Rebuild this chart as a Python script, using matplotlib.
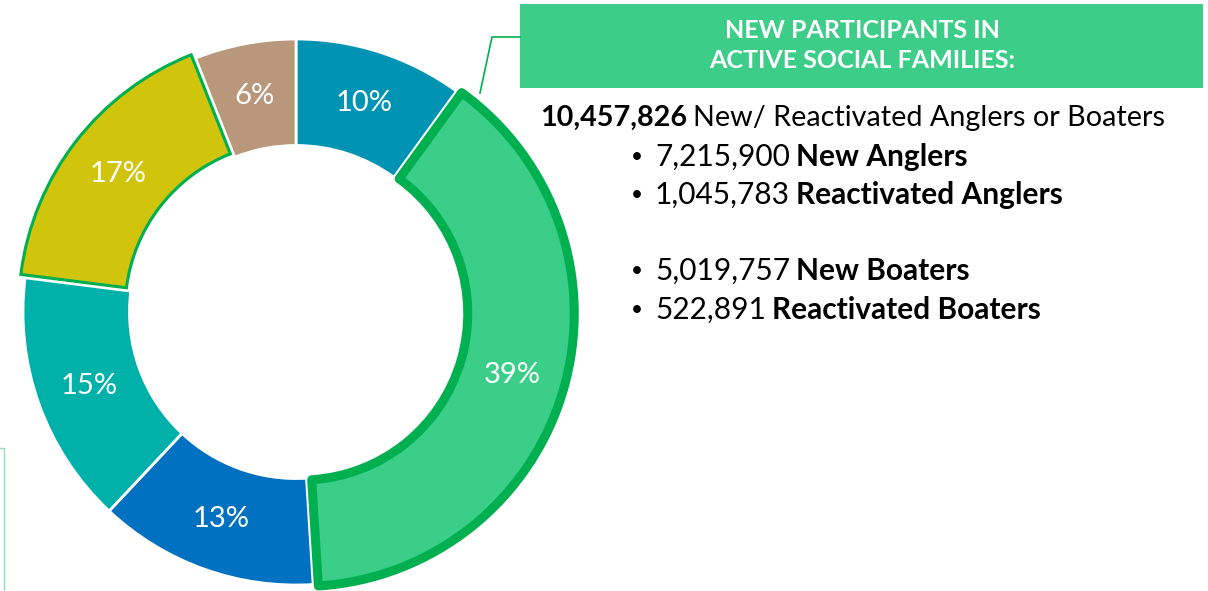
import matplotlib
matplotlib.use("Agg")
import matplotlib.pyplot as plt
from matplotlib.patches import Rectangle
from matplotlib.lines import Line2D

plt.rcParams['font.family'] = ['Lato', 'DejaVu Sans']

# donut slices, clockwise from 12 o'clock
slice_values = [10, 39, 13, 15, 17, 6]
slice_colors = ['#0093B3', '#3ACE88', '#0070C0', '#00B1A9', '#D1C40C', '#B8977B']

header_lines = ['NEW PARTICIPANTS IN', 'ACTIVE SOCIAL FAMILIES:']
total_value = '10,457,826'
total_text = 'New/ Reactivated Anglers or Boaters'
bullet_values = ['7,215,900', '1,045,783', '5,019,757', '522,891']
bullet_names = ['New Anglers', 'Reactivated Anglers', 'New Boaters', 'Reactivated Boaters']

W, H = 1208, 591
GREEN = '#00B050'
fig = plt.figure(figsize=(W / 100, H / 100), dpi=100)


def fx(px):
    return px / W


def fy(py):
    return 1 - py / H


# donut
cx, cy, R = 296, 312, 273
half = 300
ax = fig.add_axes([fx(cx - half), fy(cy + half), 2 * half / W, 2 * half / H])
wedges, _, pct = ax.pie(slice_values, colors=slice_colors, startangle=90, counterclock=False,
                        explode=[0, 0.02, 0, 0, 0.02, 0], autopct='%.0f%%', pctdistance=0.805,
                        wedgeprops=dict(width=0.39, edgecolor='white', linewidth=2),
                        textprops=dict(color='white', fontsize=21))
ax.set_xlim(-half / R, half / R)
ax.set_ylim(-half / R, half / R)
ax.axis('off')

wedges[1].set_edgecolor(GREEN)
wedges[1].set_linewidth(6.5)
wedges[1].set_joinstyle('round')
wedges[1].set_zorder(3)
wedges[4].set_edgecolor(GREEN)
wedges[4].set_linewidth(2.2)
wedges[4].set_zorder(2.5)
for t in pct:
    t.set_zorder(4)

# header box + connector
fig.patches.append(Rectangle((fx(520), fy(88)), fx(1203) - fx(520), fy(4) - fy(88),
                             transform=fig.transFigure, facecolor='#3CCD88', edgecolor='none'))
fig.lines.append(Line2D([fx(520), fx(492), fx(480)], [fy(37), fy(37), fy(93)],
                        transform=fig.transFigure, color=GREEN, lw=1.2))
# partial box at lower left
fig.patches.append(Rectangle((fx(-20), fy(620)), fx(24), fy(448) - fy(620),
                             transform=fig.transFigure, facecolor='none', edgecolor='#8EDDB5', lw=1))

fig.text(fx(862), fy(31), header_lines[0], color='white', fontsize=18, fontweight='bold',
         ha='center', va='center')
fig.text(fx(862), fy(60), header_lines[1], color='white', fontsize=18, fontweight='bold',
         ha='center', va='center')

renderer = fig.canvas.get_renderer()


def rich_line(x, y, parts, size=20.5):
    for s, weight in parts:
        t = fig.text(fx(x), fy(y), s, fontsize=size, fontweight=weight, ha='left', va='center',
                     color='black')
        x = t.get_window_extent(renderer=renderer).x1 + size * 0.3


rich_line(540, 118, [(total_value, 'bold'), (total_text, 'normal')], size=20.7)
bullet_y = [157, 195, 271, 310]
for yy, v, n in zip(bullet_y, bullet_values, bullet_names):
    fig.text(fx(637), fy(yy), '•', fontsize=15, ha='center', va='center')
    rich_line(655, yy, [(v, 'normal'), (n, 'bold')], size=21.5)

fig.savefig('out.png', dpi=100)
